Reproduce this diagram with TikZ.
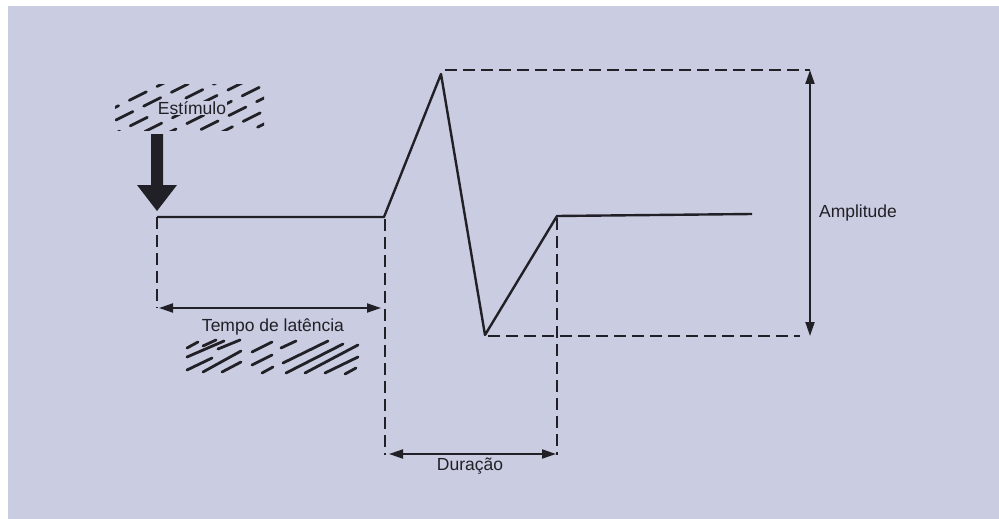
\documentclass[tikz,border=0pt]{standalone}
\usepackage{fontspec}
\setmainfont{Liberation Sans}
\usetikzlibrary{arrows.meta}
\definecolor{bg}{RGB}{202,204,225}
\definecolor{ink}{RGB}{32,32,38}
\tikzset{
  wave/.style={draw=ink, line width=2.4pt, line join=round},
  guide/.style={draw=ink, line width=2.4pt, dash pattern=on 12pt off 6pt},
  dim/.style={draw=ink, line width=2pt, {Triangle[length=14pt,width=9pt]}-{Triangle[length=14pt,width=9pt]}},
  lbl/.style={text=ink, font=\fontsize{17.5}{20}\selectfont, inner sep=0pt},
  hatch/.style={draw=ink, line width=2.8pt, line cap=round}
}
\begin{document}
\begin{tikzpicture}[x=1pt,y=-1pt]
\useasboundingbox (0,0) rectangle (999,519);
\fill[white] (0,0) rectangle (999,519);
\fill[bg] (8,6) rectangle (999,519);

% coordinates
\coordinate (s0) at (157,217);
\coordinate (k1) at (384,217);
\coordinate (pk) at (441,74);
\coordinate (tr) at (485,335);
\coordinate (k2) at (557,216);
\coordinate (e) at (752,214);

% hatch around Estimulo
\begin{scope}
\clip (115,85) rectangle (264,130);
\foreach \c [count=\i] in {30,56,82,108,134,160,186,212,238,264,290,316}
  \draw[hatch, dash pattern=on 19pt off 12pt, dash phase=\i*13pt] (\c,150) -- ++(240,-120);
\end{scope}
\node[lbl, fill=bg, inner xsep=1pt, inner ysep=0pt] (stim) at (192,108) {Estímulo};

% stimulus arrow
\fill[ink] (151,134) -- (163,134) -- (163,185) -- (177,185) -- (157,211) -- (137,185) -- (151,185) -- cycle;

% waveform
\draw[wave] (s0) -- (k1) -- (pk) -- (tr) -- (k2) -- (e);

% guides
\coordinate (lat0) at (157,308);
\coordinate (lat1) at (385,308);
\coordinate (dur0) at (385,455);
\coordinate (dur1) at (557,455);
\coordinate (ampT) at (810,70);
\coordinate (ampB) at (810,336);
\draw[guide] (s0) -- (lat0);
\draw[guide] (385,219) -- (dur0);
\draw[guide] (557,218) -- (dur1);
\draw[guide] (445,70) -- (ampT);
\draw[guide] (488,336) -- (800,336);

% dimension arrows
\draw[dim] (159,308) -- (381,308);
\draw[dim] (389,454) -- (556,454);
\draw[dim] (ampT) -- (ampB);

\node[lbl] (lat) at (273,327) {Tempo de latência};
\node[lbl] (dur) at (470,466) {Duração};
\node[lbl] (amp) at (858,213) {Amplitude};

% hatch below latency label
\foreach \a/\b/\c/\d in {
  187/348/198/342, 203/346/216/340, 187/357/224/341, 218/349/240/340,
  187/370/212/358, 203/372/241/351, 222/372/241/362,
  252/352/272/342, 252/365/272/355, 262/373/273/367,
  281/348/296/341, 283/363/328/341, 286/373/343/344,
  305/373/358/345, 325/373/358/357, 345/374/356/368}
  \draw[hatch] (\a,\b) -- (\c,\d);
\end{tikzpicture}
\end{document}
